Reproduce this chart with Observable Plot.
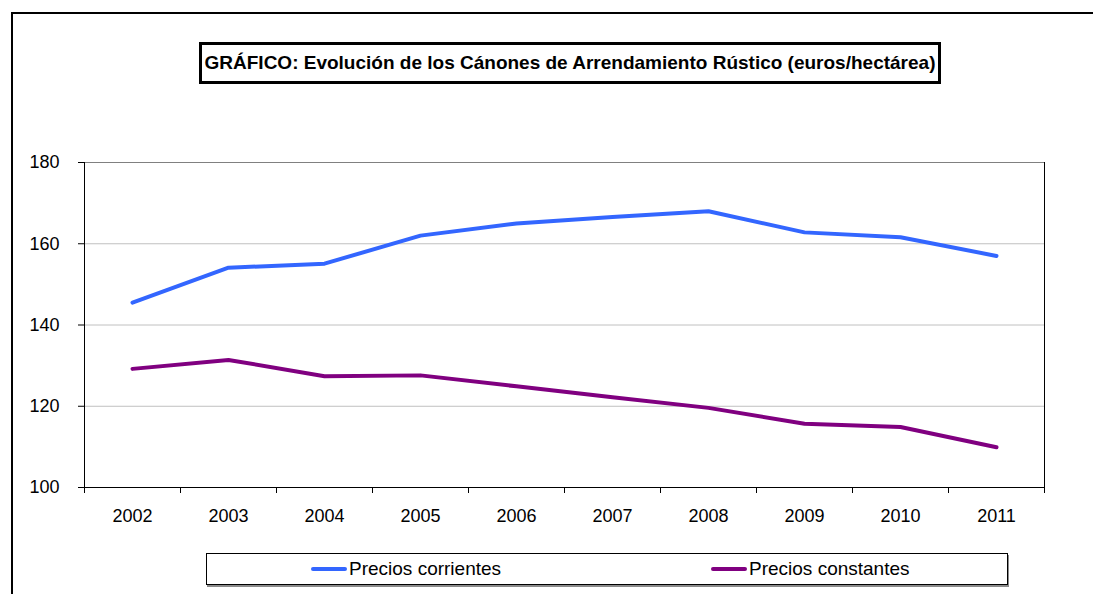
<!DOCTYPE html>
<html><head><meta charset="utf-8">
<script src="https://cdn.jsdelivr.net/npm/d3@7"></script>
<script src="https://cdn.jsdelivr.net/npm/@observablehq/plot@0.6"></script>
<style>
body{margin:0;background:#fff;}
#wrap{position:relative;width:1093px;height:594px;overflow:hidden;font-family:"Liberation Sans",Arial,sans-serif;background:#fff;}
#chart{position:absolute;left:0;top:0;}
#outer{position:absolute;left:11px;top:12px;width:1200px;height:700px;border-left:2px solid #000;border-top:2px solid #000;pointer-events:none;}
#title{position:absolute;left:199px;top:42px;width:736px;height:36px;border:3px solid #000;font-weight:bold;font-size:19px;display:flex;align-items:center;justify-content:center;background:#fff;color:#000;white-space:nowrap;}
#legend{position:absolute;left:206px;top:553px;width:800px;height:30px;border:1px solid #000;box-shadow:1px 2px 0 #8a8a8a;background:#fff;font-size:19px;color:#000;}
.item{position:absolute;top:0;height:30px;display:flex;align-items:center;}
.sw{width:36px;height:4px;border-radius:2px;margin-right:2px;}
</style></head>
<body>
<div id="wrap">
  <div id="chart"></div>
  <div id="outer"></div>
  <div id="title"></div>
  <div id="legend"></div>
</div>
<script>
const titleText = "GRÁFICO: Evolución de los Cánones de Arrendamiento Rústico (euros/hectárea)";
const years = [2002, 2003, 2004, 2005, 2006, 2007, 2008, 2009, 2010, 2011];
const corrientes = [145.5, 154.1, 155.1, 162.0, 165.0, 166.6, 168.0, 162.8, 161.6, 157.0];
const constantes = [129.2, 131.4, 127.4, 127.6, 124.9, 122.2, 119.6, 115.7, 114.9, 109.9];
const yTicks = [100, 120, 140, 160, 180];
const seriesNames = ["Precios corrientes", "Precios constantes"];
const seriesColors = ["#3366FF", "#800080"];
const legendLeft = [104, 504];

const data = [];
years.forEach((yr, i) => {
  data.push({year: yr, value: corrientes[i], series: seriesNames[0]});
});
years.forEach((yr, i) => {
  data.push({year: yr, value: constantes[i], series: seriesNames[1]});
});
const boundaries = years.map(y => y - 0.5).concat([years[years.length - 1] + 0.5]);
const xDomain = [boundaries[0], boundaries[boundaries.length - 1]];

document.getElementById("title").textContent = titleText;

const chart = Plot.plot({
  width: 1093,
  height: 594,
  marginTop: 162,
  marginBottom: 107,
  marginLeft: 84,
  marginRight: 49,
  style: {fontFamily: '"Liberation Sans", Arial, sans-serif', fontSize: "18px", color: "#000", background: "transparent", overflow: "visible"},
  x: {type: "linear", domain: xDomain},
  y: {domain: [yTicks[0], yTicks[yTicks.length - 1]]},
  color: {domain: seriesNames, range: seriesColors},
  marks: [
    Plot.gridY(yTicks.slice(1, -1), {stroke: "#c0c0c0", strokeOpacity: 1}),
    Plot.ruleY([yTicks[yTicks.length - 1]], {stroke: "#808080"}),
    Plot.axisY(yTicks, {tickSize: 6, tickPadding: 19, label: null, tickFormat: d => String(d)}),
    Plot.axisX(boundaries, {tickSize: 6, tickFormat: () => "", label: null}),
    Plot.axisX(years, {tickSize: 0, tickPadding: 22, tickFormat: d => String(d), label: null}),
    Plot.ruleX([xDomain[0]], {stroke: "#000"}),
    Plot.ruleX([xDomain[1]], {stroke: "#000"}),
    Plot.ruleY([yTicks[0]], {stroke: "#000"}),
    Plot.line(data, {x: "year", y: "value", z: "series", stroke: "series", strokeWidth: 4})
  ]
});
document.getElementById("chart").appendChild(chart);

const legend = document.getElementById("legend");
seriesNames.forEach((name, i) => {
  const it = document.createElement("div");
  it.className = "item";
  it.style.left = legendLeft[i] + "px";
  const sw = document.createElement("div");
  sw.className = "sw";
  sw.style.background = seriesColors[i];
  const tx = document.createElement("span");
  tx.textContent = name;
  it.appendChild(sw);
  it.appendChild(tx);
  legend.appendChild(it);
});
</script>
</body></html>
